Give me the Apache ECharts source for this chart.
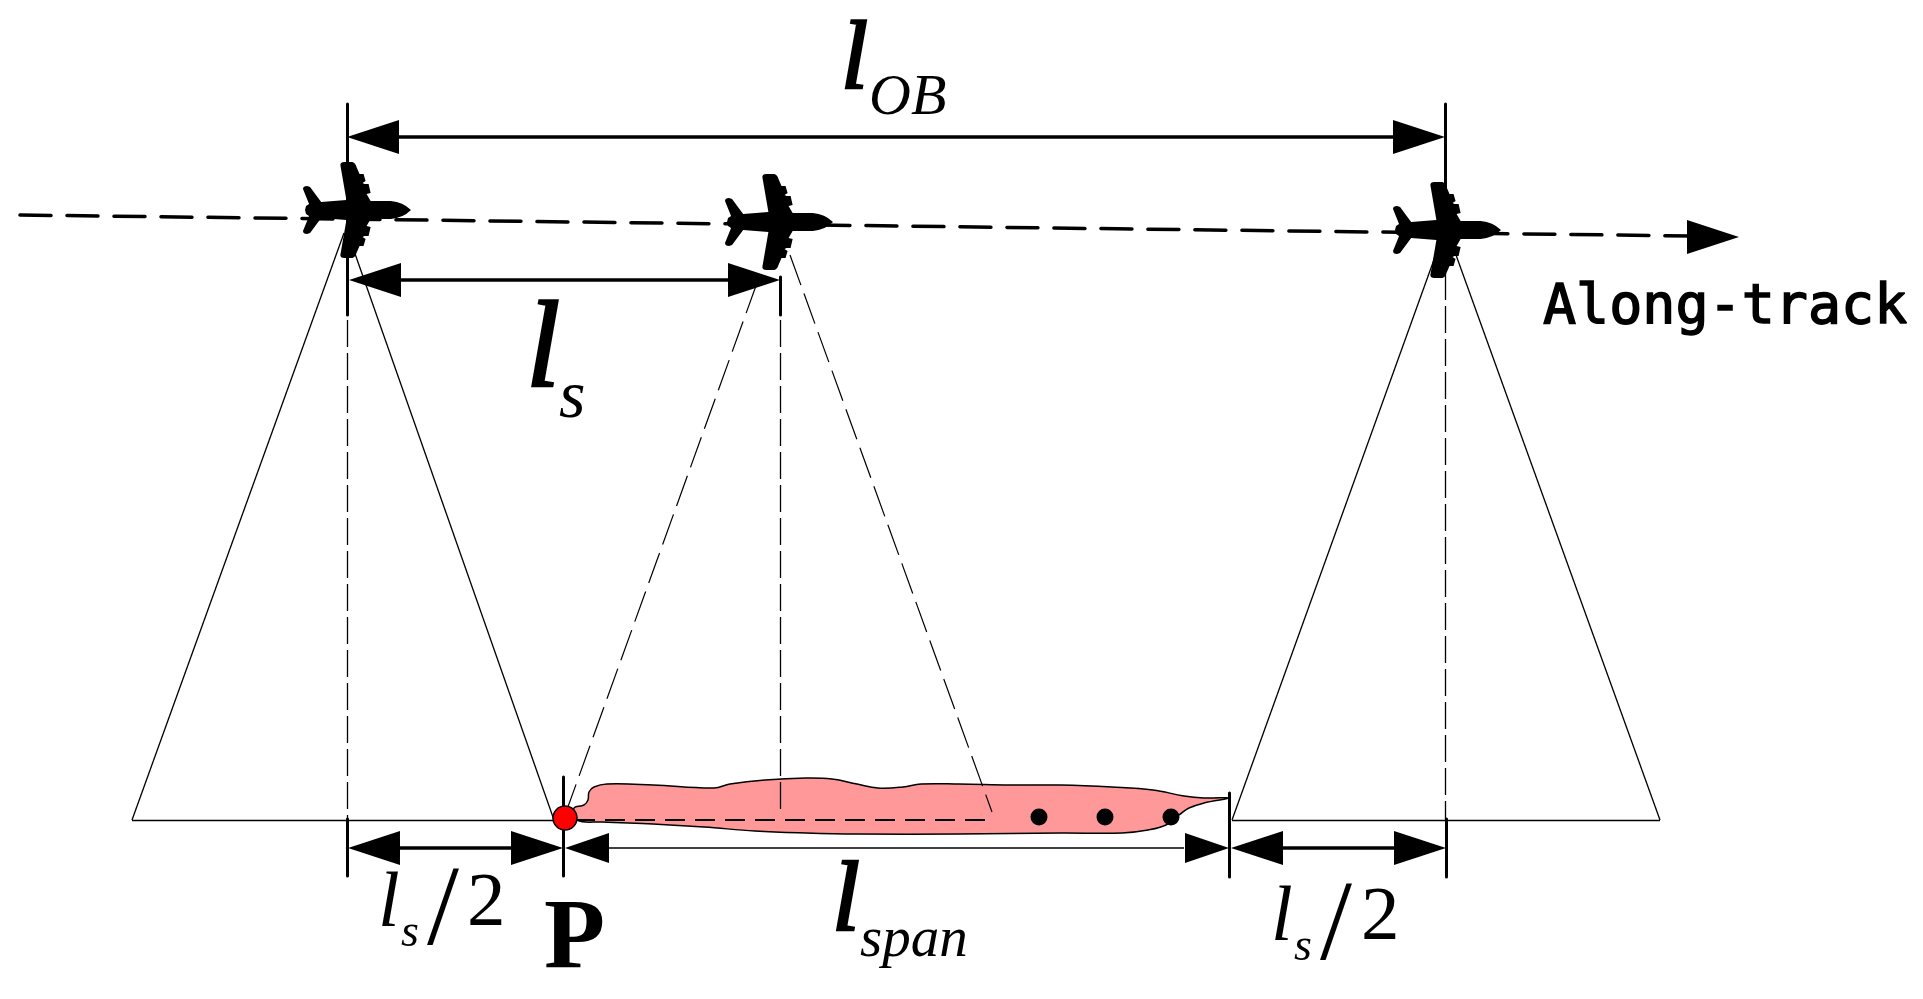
<!DOCTYPE html>
<html>
<head>
<meta charset="utf-8">
<title>Along-track geometry</title>
<style>
html,body{margin:0;padding:0;background:#fff;}
#main{width:1923px;height:999px;}
</style>
<script src="https://cdn.jsdelivr.net/npm/echarts@6/dist/echarts.min.js"></script>
</head>
<body>
<div id="main"></div>
<script>
//values, in picture units
var planes = [[357,210],[779,222],[1447,230]];
var dots = [[1039,817],[1105,817],[1171,817]];
var pointP = [[565,818]];
var flightPath = [[20,215,1692,236]];
var thickBars = [[399,137,1393,137],[399,280,728,280],[399,848,511,848],[1281,848,1394,848]];
var tickBars = [[347,104,347,315],[780,277,780,315],[1445,104,1445,215],[347,819,347,876],[563,777,563,876],[1229,793,1229,877],[1446,819,1446,877]];
var thinBars = [[609,848,1184,848]];
var footprint = [[132,820,554,820],[132,820,344,233],[353,248,554,820],[1232,820,1660,820],[1232,820,1440,243],[1456,255,1660,820]];
var nadirDash = [[347,320,347,820],[780,320,780,812],[1445,240,1445,820]];
var beamDash = [[757,283,565,815],[790,255,992,812]];
var groundDash = [[575,820,994,820]];
var arrowsLeft = [[347,137],[349,280],[348,848],[1231,848]];
var arrowsRight = [[1445,137],[780,280],[563,848],[1446,848],[1739,237]];
var smallLeft = [[565,848]];
var smallRight = [[1229,848]];
var swathX = [574,584,588,589,594,607,653,714,730,765,806,832,857,878,903,921,959,1010,1061,1112,1153,1184,1204,1229,1204,1189,1179,1166,1148,1122,1061,959,857,806,755,704,653,602,577];
var swathY = [808,805,800,792,787,784,785,788,784,780,778,779,784,788,787,784,784,785,785,787,790,796,798,798,803,808,815,825,830,833,833,834,834,833,831,827,824,822,820];

var labelTexts = ['l','OB','l','s','l','s','/','2','P','l','span','l','s','/','2','Along-track'];
var labelX = [841,869,526,559,378,401,427,467,544,832,860,1271,1294,1320,1361,1543];
var labelY = [62,99,354,399,905,934,914,905,941,904,941,919,948,929,919,309];
var labelKinds = ['j97','i58','j123','i68','i78','i46','r115','r77','b100','j100','i57','i78','i46','r115','r77','m55'];

var planePath = 'path://M3 48L4 44L7 42L1 27Q1 24 5 24L8 25L19 40L44 38L38 3Q38 0 42 0L50 0Q53 1 54 5L57 12L61 12L63 19L60 21L62 22L66 22L68 31L64 32L68 39L88 39Q100 40 108 48Q100 56 88 57L68 57L64 64L68 65L66 74L62 74L60 75L63 77L61 84L57 84L54 91Q53 95 50 96L42 96Q38 96 38 93L44 58L19 56L8 71L5 72Q1 72 1 69L7 54L4 52Z';

function segs(list,width,dash,z,cap){
	return {
		type:'lines',
		coordinateSystem:'cartesian2d',
		silent:true,
		z:z,
		lineStyle:{color:'#000',width:width,type:dash||'solid',cap:cap||'butt',opacity:1},
		data:list.map(function(s){
			return {coords:[[s[0],s[1]],[s[2],s[3]]]};
		})
	};
}

function arrows(tips,dir,len,wide){
	return {
		type:'scatter',
		silent:true,
		z:6,
		symbol:'triangle',
		symbolSize:[wide,len],
		symbolRotate:dir==='left'?90:-90,
		itemStyle:{color:'#000',opacity:1},
		data:tips.map(function(t){
			return [t[0]+(dir==='left'?len/2:-len/2),t[1]];
		})
	};
}

//i italic, j heavier italic, r roman, b bold, m mono
function labelFont(kind){
	var k = kind.charAt(0), size = parseInt(kind.substr(1),10);
	return {
		fontSize:size,
		fontFamily:k==='m'?'DejaVu Sans Mono':'Liberation Serif',
		fontStyle:(k==='i'||k==='j')?'italic':'normal',
		fontWeight:k==='b'?'bold':'normal',
		border:k==='j'?2.5:(k==='m'?1.5:0)
	};
}

var labelSeries = labelTexts.map(function(txt,i){
	var f = labelFont(labelKinds[i]);
	return {
		type:'scatter',
		silent:true,
		z:9,
		symbolSize:0,
		itemStyle:{opacity:1},
		data:[[labelX[i],labelY[i]]],
		label:{
			show:true,
			position:'inside',
			formatter:txt,
			align:'left',
			verticalAlign:'middle',
			color:'#000',
			opacity:1,
			textBorderColor:'#000',
			textBorderWidth:f.border,
			fontSize:f.fontSize,
			fontFamily:f.fontFamily,
			fontStyle:f.fontStyle,
			fontWeight:f.fontWeight
		}
	};
});

var swathSeries = {
	type:'custom',
	silent:true,
	z:2,
	data:[0],
	renderItem:function(params,api){
		var pts = swathX.map(function(x,i){
			return api.coord([x,swathY[i]]);
		});
		return {
			type:'polygon',
			shape:{points:pts,smooth:0.4},
			style:{fill:'#ff9999',stroke:'#000',lineWidth:1.5}
		};
	}
};

var chart = echarts.init(document.getElementById('main'));
chart.setOption({
	animation:false,
	backgroundColor:'#fff',
	grid:{left:0,right:0,top:0,bottom:0},
	xAxis:{type:'value',min:0,max:1923,show:false},
	yAxis:{type:'value',min:0,max:999,inverse:true,show:false},
	series:[
		swathSeries,
		segs(footprint,1.3,null,3),
		segs(nadirDash,1.3,[27,6],3),
		segs(beamDash,1.2,[32,9],3),
		segs(groundDash,1.8,[20,10],3),
		segs(thinBars,1.5,null,4),
		segs(thickBars,3.5,null,4),
		segs(tickBars,3,null,4,'round'),
		segs(flightPath,3.5,[31,16],4,'round'),
		arrows(arrowsLeft,'left',52,34),
		arrows(arrowsRight,'right',52,34),
		arrows(smallLeft,'left',44,30),
		arrows(smallRight,'right',44,30),
		{
			type:'scatter',silent:true,z:7,
			symbol:planePath,symbolSize:[108,96],
			itemStyle:{color:'#000',opacity:1},
			data:planes
		},
		{
			type:'scatter',silent:true,z:7,
			symbol:'circle',symbolSize:17,
			itemStyle:{color:'#000',opacity:1},
			data:dots
		},
		{
			type:'scatter',silent:true,z:8,
			symbol:'circle',symbolSize:24,
			itemStyle:{color:'#ff0000',borderColor:'#000',borderWidth:1.5,opacity:1},
			data:pointP
		}
	].concat(labelSeries)
});
</script>
</body>
</html>
